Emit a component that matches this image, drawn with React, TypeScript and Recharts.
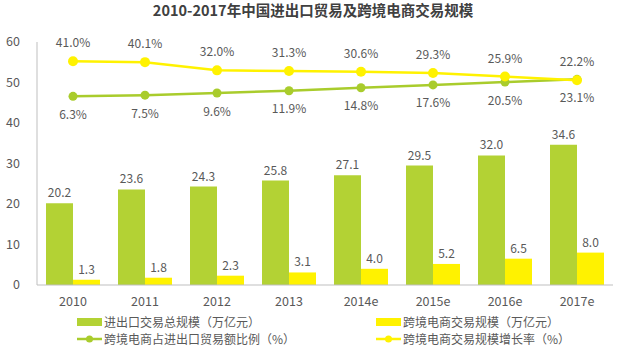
import React from 'react';
import { ComposedChart, Bar, Line, XAxis, YAxis, LabelList } from 'recharts';

const years = ['2010', '2011', '2012', '2013', '2014e', '2015e', '2016e', '2017e'];
const tradeTotal = [20.2, 23.6, 24.3, 25.8, 27.1, 29.5, 32.0, 34.6];
const ecomScale = [1.3, 1.8, 2.3, 3.1, 4.0, 5.2, 6.5, 8.0];
const ecomShare = [6.3, 7.5, 9.6, 11.9, 14.8, 17.6, 20.5, 23.1];
const ecomGrowth = [41.0, 40.1, 32.0, 31.3, 30.6, 29.3, 25.9, 22.2];
const leftTicks = [0, 10, 20, 30, 40, 50, 60];

const title = '2010-2017年中国进出口贸易及跨境电商交易规模';
const seriesNames = [
  '进出口交易总规模（万亿元）',
  '跨境电商交易规模（万亿元）',
  '跨境电商占进出口贸易额比例（%）',
  '跨境电商交易规模增长率（%）',
];

const GREEN = '#B3D234';
const YELLOW = '#FFF200';
const LINE_GREEN = '#A9CC2C';
const TEXT = '#595959';
const FONT = '"Noto Sans CJK SC", "Noto Sans", sans-serif';

const data = years.map((y, i) => ({
  year: y,
  total: tradeTotal[i],
  ecom: ecomScale[i],
  share: ecomShare[i],
  growth: ecomGrowth[i],
}));

const pct = (v: any) => Number(v).toFixed(1) + '%';
const one = (v: any) => Number(v).toFixed(1);

const LegendItem = ({ kind, color, label, left, top }: any) => (
  <div style={{ position: 'absolute', left, top, display: 'flex', alignItems: 'center', height: 14 }}>
    {kind === 'rect' ? (
      <div style={{ width: 25, height: 8, background: color }} />
    ) : (
      <svg width={25} height={10} style={{ display: 'block' }}>
        <line x1={0} y1={5} x2={25} y2={5} stroke={color} strokeWidth={2.5} />
        <circle cx={12.5} cy={5} r={3.5} fill={color} />
      </svg>
    )}
    <span style={{ marginLeft: 2, fontSize: 12, lineHeight: '14px', color: TEXT, fontFamily: FONT, whiteSpace: 'nowrap' }}>{label}</span>
  </div>
);

export default function App() {
  return (
    <div style={{ position: 'absolute', left: 0, top: 0, width: 618, height: 357, background: '#fff', fontFamily: FONT }}>
      <div
        style={{
          position: 'absolute',
          left: 0,
          top: 0,
          width: 626,
          textAlign: 'center',
          fontSize: 14.5,
          fontWeight: 'bold',
          color: '#404040',
          lineHeight: '20px',
          fontFamily: FONT,
        }}
      >
        {title}
      </div>
      <ComposedChart
        width={618}
        height={357}
        data={data}
        margin={{ top: 42, right: 5, left: 0, bottom: 52 }}
        barCategoryGap="12.5%"
        barGap={0}
      >
        <XAxis
          dataKey="year"
          tickSize={0}
          tickMargin={12}
          height={20}
          axisLine={{ stroke: '#BFBFBF' }}
          tick={{ fill: TEXT, fontSize: 12.5, fontFamily: FONT }}
        />
        <YAxis
          yAxisId="left"
          width={37}
          domain={[0, 60]}
          ticks={leftTicks}
          tickSize={0}
          tickMargin={17}
          axisLine={{ stroke: '#BFBFBF' }}
          tick={{ fill: TEXT, fontSize: 12.5, fontFamily: FONT }}
        />
        <YAxis yAxisId="right" orientation="right" domain={[-180, 60]} hide />
        <Bar yAxisId="left" dataKey="total" fill={GREEN} isAnimationActive={false}>
          <LabelList dataKey="total" position="top" offset={6} fill={TEXT} fontSize={12} fontFamily={FONT} formatter={one} />
        </Bar>
        <Bar yAxisId="left" dataKey="ecom" fill={YELLOW} isAnimationActive={false}>
          <LabelList dataKey="ecom" position="top" offset={6} fill={TEXT} fontSize={12} fontFamily={FONT} formatter={one} />
        </Bar>
        <Line
          yAxisId="right"
          dataKey="share"
          stroke={LINE_GREEN}
          strokeWidth={2.5}
          dot={{ r: 4.5, fill: LINE_GREEN, stroke: LINE_GREEN, strokeWidth: 0 }}
          isAnimationActive={false}
        >
          <LabelList dataKey="share" position="bottom" offset={14} fill={TEXT} fontSize={12} fontFamily={FONT} formatter={pct} />
        </Line>
        <Line
          yAxisId="right"
          dataKey="growth"
          stroke={YELLOW}
          strokeWidth={2.5}
          dot={{ r: 5, fill: YELLOW, stroke: YELLOW, strokeWidth: 0 }}
          isAnimationActive={false}
        >
          <LabelList dataKey="growth" position="top" offset={14} fill={TEXT} fontSize={12} fontFamily={FONT} formatter={pct} />
        </Line>
      </ComposedChart>
      <LegendItem kind="rect" color={GREEN} label={seriesNames[0]} left={77} top={315} />
      <LegendItem kind="rect" color={YELLOW} label={seriesNames[1]} left={376} top={315} />
      <LegendItem kind="line" color={LINE_GREEN} label={seriesNames[2]} left={77} top={332} />
      <LegendItem kind="line" color={YELLOW} label={seriesNames[3]} left={376} top={332} />
    </div>
  );
}
